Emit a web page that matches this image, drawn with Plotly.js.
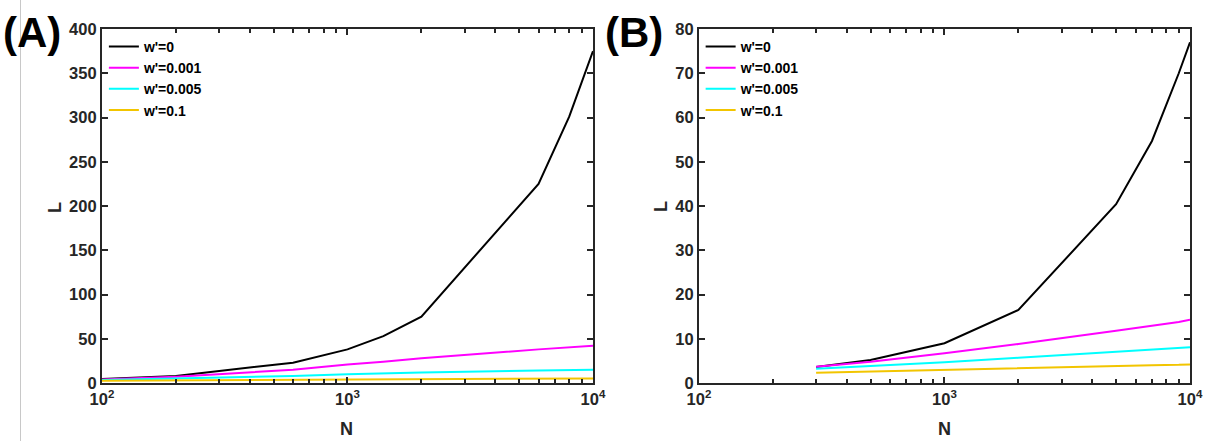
<!DOCTYPE html>
<html><head><meta charset="utf-8">
<script src="https://cdn.plot.ly/plotly-3.0.1.min.js"></script>
<style>html,body{margin:0;padding:0;background:#fff}#chart{width:1208px;height:441px}</style>
</head><body><div id="chart"></div>
<script>
// Panel A
const nA = [100, 200, 600, 1000, 1400, 2000, 6000, 8000, 10000];
const A_w0     = [4.5, 8, 23, 38, 53, 75, 225, 301, 375];
const A_w0001  = [4, 7, 15, 21, 24, 28, 38, 40, 42];
const A_w0005  = [3.5, 5, 8, 10, 11, 12, 14, 14.5, 15];
const A_w01    = [2.5, 3, 3.5, 4, 4.2, 4.5, 5, 5, 5.2];
// Panel B
const nB = [300, 500, 1000, 2000, 5000, 7000, 9000, 10000];
const B_w0     = [3.6, 5.2, 9.0, 16.5, 40.4, 54.7, 70, 77];
const B_w0001  = [3.7, 4.8, 6.7, 8.8, 11.8, 12.9, 13.8, 14.3];
const B_w0005  = [3.2, 3.8, 4.7, 5.7, 7.0, 7.5, 7.9, 8.1];
const B_w01    = [2.3, 2.6, 2.9, 3.3, 3.8, 4.0, 4.1, 4.2];

const seriesNames = ["w'=0", "w'=0.001", "w'=0.005", "w'=0.1"];
const colors = ["#000000", "#ff00ff", "#00ffff", "#f2c500"];
const xTickVals = [100, 1000, 10000];
const xTickText = ["10<sup>2</sup>", "10<sup>3</sup>", "10<sup>4</sup>"];
const yTicksA = [0, 50, 100, 150, 200, 250, 300, 350, 400];
const yTicksB = [0, 10, 20, 30, 40, 50, 60, 70, 80];
const xTitle = 'N', yTitle = 'L';
const panelLabels = ['(A)', '(B)'];

const minorVals = [];
for (let d = 100; d < 10000; d *= 10) for (let k = 2; k <= 9; k++) minorVals.push(d * k);

const traces = [];
[A_w0, A_w0001, A_w0005, A_w01].forEach((ys, i) => traces.push({
  x: nA, y: ys, type: 'scatter', mode: 'lines', name: seriesNames[i],
  line: {color: colors[i], width: 2}, xaxis: 'x', yaxis: 'y', legend: 'legend'
}));
[B_w0, B_w0001, B_w0005, B_w01].forEach((ys, i) => traces.push({
  x: nB, y: ys, type: 'scatter', mode: 'lines', name: seriesNames[i],
  line: {color: colors[i], width: 2}, xaxis: 'x2', yaxis: 'y2', legend: 'legend2'
}));

const axColor = '#262626';
const fam = 'Liberation Sans, Arial, sans-serif';
const tickFont = {family: fam, size: 16.5, color: axColor, weight: 'bold'};
const titleFont = {family: fam, size: 18, color: axColor, weight: 'bold'};

function xAxis(dom) {
  return {
    type: 'log', range: [2, 4], domain: dom,
    tickmode: 'array', tickvals: xTickVals, ticktext: xTickText,
    ticks: 'inside', ticklen: 6, tickwidth: 2, tickcolor: axColor,
    minor: {tickmode: 'array', tickvals: minorVals, ticks: 'inside', ticklen: 4, tickwidth: 2, tickcolor: axColor, showgrid: false},
    showline: true, linewidth: 2, linecolor: axColor, mirror: 'ticks',
    showgrid: false, zeroline: false, tickfont: tickFont
  };
}
function yAxis(range, vals) {
  return {
    range: range, domain: [0.1315, 0.9342],
    tickmode: 'array', tickvals: vals,
    ticks: 'inside', ticklen: 6, tickwidth: 2, tickcolor: axColor,
    showline: true, linewidth: 2, linecolor: axColor, mirror: 'ticks',
    showgrid: false, zeroline: false, tickfont: tickFont
  };
}

const xa = xAxis([0.0844, 0.4909]); xa.anchor = 'y';
const xb = xAxis([0.5786, 0.9851]); xb.anchor = 'y2';
const ya = yAxis([0, 400], yTicksA); ya.anchor = 'x';
const yb = yAxis([0, 80], yTicksB); yb.anchor = 'x2';

const legFont = {family: fam, size: 14, color: '#000', weight: 'bold'};
const W = 1208, H = 441;
function ann(text, px, py, font, angle) {
  return {text: text, xref: 'paper', yref: 'paper', x: px / W, y: (H - py) / H,
    xanchor: 'center', yanchor: 'middle', showarrow: false, font: font, textangle: angle || 0};
}
const labelFont = {family: fam, size: 42, color: '#000', weight: 'bold'};
const layout = {
  width: W, height: H,
  margin: {l: 0, r: 0, t: 0, b: 0},
  paper_bgcolor: '#fff', plot_bgcolor: '#fff',
  xaxis: xa, yaxis: ya, xaxis2: xb, yaxis2: yb,
  legend: {x: 0.086, y: 0.93, xanchor: 'left', yanchor: 'top', bgcolor: 'rgba(0,0,0,0)', font: legFont, tracegroupgap: 0, itemwidth: 30},
  legend2: {x: 0.580, y: 0.93, xanchor: 'left', yanchor: 'top', bgcolor: 'rgba(0,0,0,0)', font: legFont, tracegroupgap: 0, itemwidth: 30},
  annotations: [
    ann(panelLabels[0], 32, 33, labelFont),
    ann(panelLabels[1], 634, 33, labelFont),
    ann(xTitle, 346, 429, titleFont),
    ann(xTitle, 944, 429, titleFont),
    ann(yTitle, 55, 207, titleFont, -90),
    ann(yTitle, 661, 207, titleFont, -90)
  ],
  shapes: [
    {type: 'line', xref: 'paper', yref: 'paper', x0: 20.5/W, x1: 20.5/W, y0: 0, y1: 1, line: {color: '#c8c8c8', width: 1}}
  ],
  showlegend: true
};

Plotly.newPlot('chart', traces, layout, {displayModeBar: false, staticPlot: true});
</script>
</body></html>
